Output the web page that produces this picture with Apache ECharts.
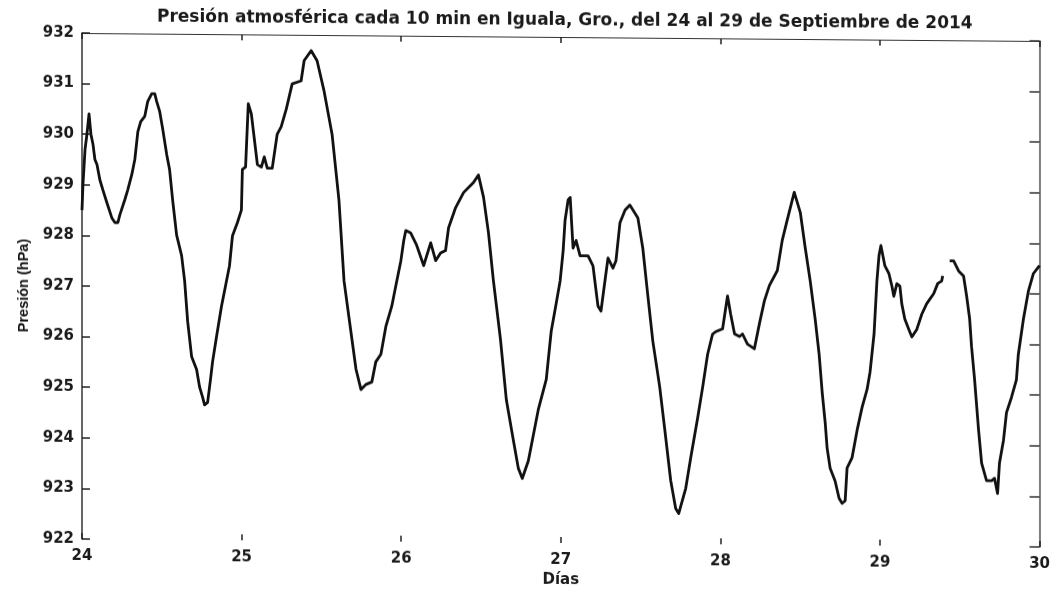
<!DOCTYPE html>
<html>
<head>
<meta charset="utf-8">
<script src="https://cdn.jsdelivr.net/npm/echarts@6/dist/echarts.min.js"></script>
<style>
  html, body { margin: 0; padding: 0; background: #fff; }
  /* the printed sheet is slightly sheared: the right side sits lower */
  #chart { width: 1053px; height: 592px; transform: skewY(0.477deg); transform-origin: 82px 0px; }
</style>
</head>
<body>
<div id="chart"></div>
<script>
// Time in days of September 2014 (readings every 10 min, traced at turning points)
const days = [
  24.000, 24.006, 24.019, 24.031, 24.044, 24.056, 24.069, 24.081, 24.094, 24.112,
  24.131, 24.156, 24.187, 24.206, 24.225, 24.237, 24.268, 24.287, 24.312, 24.331,
  24.350, 24.368, 24.393, 24.412, 24.437, 24.456, 24.468, 24.487, 24.506, 24.531,
  24.549, 24.568, 24.593, 24.624, 24.643, 24.662, 24.687, 24.718, 24.737, 24.756,
  24.768, 24.787, 24.805, 24.818, 24.843, 24.874, 24.899, 24.924, 24.943, 24.974,
  24.999, 25.005, 25.025, 25.042, 25.061, 25.080, 25.099, 25.124, 25.142, 25.161,
  25.192, 25.223, 25.248, 25.280, 25.317, 25.373, 25.392, 25.436, 25.473, 25.517,
  25.567, 25.610, 25.642, 25.685, 25.717, 25.748, 25.779, 25.816, 25.841, 25.873,
  25.904, 25.941, 25.966, 25.998, 26.016, 26.029, 26.060, 26.097, 26.141, 26.185,
  26.216, 26.247, 26.278, 26.297, 26.341, 26.391, 26.453, 26.484, 26.516, 26.547,
  26.578, 26.622, 26.659, 26.703, 26.734, 26.759, 26.797, 26.859, 26.909, 26.940,
  26.971, 26.996, 27.015, 27.027, 27.046, 27.059, 27.077, 27.096, 27.121, 27.171,
  27.202, 27.233, 27.252, 27.277, 27.296, 27.327, 27.346, 27.371, 27.403, 27.433,
  27.483, 27.514, 27.546, 27.577, 27.620, 27.652, 27.689, 27.720, 27.739, 27.783,
  27.814, 27.858, 27.889, 27.920, 27.951, 27.970, 28.014, 28.045, 28.064, 28.089,
  28.120, 28.139, 28.170, 28.213, 28.245, 28.276, 28.307, 28.357, 28.388, 28.419,
  28.451, 28.463, 28.501, 28.532, 28.563, 28.594, 28.619, 28.638, 28.657, 28.669,
  28.688, 28.719, 28.744, 28.763, 28.782, 28.794, 28.825, 28.857, 28.888, 28.919,
  28.938, 28.963, 28.981, 28.994, 29.006, 29.031, 29.056, 29.075, 29.087, 29.106,
  29.125, 29.137, 29.156, 29.187, 29.200, 29.231, 29.262, 29.293, 29.337, 29.362,
  29.387, 29.393, 29.415,
  29.437, 29.462, 29.493, 29.524, 29.543, 29.562, 29.574, 29.593, 29.618, 29.637,
  29.668, 29.699, 29.718, 29.737, 29.749, 29.774, 29.793, 29.824, 29.855, 29.867,
  29.899, 29.930, 29.961, 30.000
];

// Pressure in hPa; null marks the gap in the record
const pressure = [
  928.50, 929.00, 929.70, 930.00, 930.40, 930.00, 929.80, 929.50, 929.40, 929.10,
  928.90, 928.65, 928.35, 928.26, 928.26, 928.41, 928.71, 928.91, 929.21, 929.51,
  930.06, 930.26, 930.36, 930.66, 930.81, 930.81, 930.66, 930.46, 930.11, 929.61,
  929.31, 928.71, 928.02, 927.62, 927.12, 926.32, 925.62, 925.37, 925.02, 924.82,
  924.67, 924.72, 925.17, 925.52, 926.02, 926.62, 927.02, 927.42, 928.02, 928.28,
  928.53, 929.33, 929.38, 930.63, 930.43, 929.93, 929.43, 929.38, 929.58, 929.36,
  929.36, 930.03, 930.18, 930.53, 931.03, 931.09, 931.49, 931.69, 931.49, 930.89,
  930.04, 928.74, 927.14, 926.14, 925.40, 925.00, 925.10, 925.15, 925.55, 925.70,
  926.25, 926.65, 927.05, 927.55, 927.95, 928.15, 928.10, 927.86, 927.46, 927.91,
  927.56, 927.71, 927.76, 928.21, 928.61, 928.91, 929.11, 929.26, 928.82, 928.12,
  927.17, 926.02, 924.82, 924.02, 923.47, 923.27, 923.62, 924.63, 925.23, 926.18,
  926.73, 927.18, 927.78, 928.38, 928.78, 928.83, 927.83, 927.98, 927.68, 927.68,
  927.48, 926.69, 926.59, 927.19, 927.64, 927.44, 927.59, 928.34, 928.59, 928.69,
  928.44, 927.84, 926.89, 926.00, 925.10, 924.25, 923.25, 922.70, 922.60, 923.10,
  923.70, 924.50, 925.10, 925.75, 926.15, 926.20, 926.26, 926.91, 926.56, 926.16,
  926.11, 926.16, 925.96, 925.87, 926.37, 926.82, 927.12, 927.42, 928.02, 928.42,
  928.82, 928.97, 928.57, 927.87, 927.22, 926.47, 925.77, 925.02, 924.42, 923.92,
  923.52, 923.27, 922.93, 922.83, 922.88, 923.53, 923.73, 924.28, 924.73, 925.08,
  925.43, 926.18, 927.23, 927.73, 927.93, 927.53, 927.38, 927.13, 926.93, 927.18,
  927.13, 926.78, 926.48, 926.23, 926.13, 926.28, 926.58, 926.79, 926.99, 927.19,
  927.24, 927.34, null,
  927.64, 927.64, 927.44, 927.34, 926.95, 926.50, 925.95, 925.30, 924.30, 923.65,
  923.30, 923.30, 923.35, 923.05, 923.65, 924.10, 924.65, 924.95, 925.30, 925.80,
  926.50, 927.05, 927.40, 927.56
];

const titleText = 'Presión atmosférica cada 10 min en Iguala, Gro., del 24 al 29 de Septiembre de 2014';
const xName = 'Días';
const yName = 'Presión (hPa)';

const seriesData = days.map((d, i) => [d, pressure[i]]);

const tickFont = { fontFamily: 'DejaVu Sans', fontWeight: 'bold', fontSize: 15, color: '#1a1a1a' };

const chart = echarts.init(document.getElementById('chart'), null, { renderer: 'canvas' });
chart.setOption({
  animation: false,
  backgroundColor: '#fff',
  title: {
    text: titleText,
    left: 152,
    top: 3,
    textStyle: { fontFamily: 'DejaVu Sans', fontWeight: 'bold', fontSize: 17, color: '#1a1a1a' }
  },
  grid: { left: 82, right: 10, top: 33, bottom: 53 },
  xAxis: [
    {
      type: 'value', min: 24, max: 30, interval: 1, position: 'bottom',
      name: xName, nameLocation: 'middle', nameGap: 30,
      nameTextStyle: { fontFamily: 'DejaVu Sans', fontWeight: 'bold', fontSize: 15, color: '#1a1a1a' },
      axisLine: { show: false },
      axisTick: { show: true, inside: true, length: 6, lineStyle: { color: '#222', width: 1.5 } },
      axisLabel: Object.assign({ margin: 10 }, tickFont),
      splitLine: { show: false }
    },
    {
      type: 'value', min: 24, max: 30, interval: 1, position: 'top',
      axisLine: { show: true, lineStyle: { color: '#333', width: 1.2 } },
      axisTick: { show: true, inside: true, length: 6, lineStyle: { color: '#222', width: 1.5 } },
      axisLabel: { show: false },
      splitLine: { show: false }
    }
  ],
  yAxis: [
    {
      type: 'value', min: 922, max: 932, interval: 1, position: 'left',
      name: yName, nameLocation: 'middle', nameGap: 51, nameRotate: 90,
      nameTextStyle: { fontFamily: "'Liberation Sans Narrow', 'Liberation Sans', sans-serif", fontSize: 14.5, fontWeight: 'bold', color: '#111' },
      axisLine: { show: true, lineStyle: { color: '#333', width: 1.5 } },
      axisTick: { show: true, inside: true, length: 8, lineStyle: { color: '#222', width: 1.5 } },
      axisLabel: Object.assign({ margin: 8 }, tickFont),
      splitLine: { show: false }
    },
    {
      type: 'value', min: 922, max: 932, interval: 1, position: 'right',
      axisLine: { show: true, lineStyle: { color: '#555', width: 1.5 } },
      axisTick: { show: true, inside: true, length: 10, lineStyle: { color: '#333', width: 1.5 } },
      axisLabel: { show: false },
      splitLine: { show: false }
    }
  ],
  series: [
    {
      type: 'line',
      xAxisIndex: 0,
      yAxisIndex: 0,
      data: seriesData,
      showSymbol: false,
      connectNulls: false,
      lineStyle: { color: '#111', width: 2.8, join: 'round' }
    }
  ]
});
</script>
</body>
</html>
